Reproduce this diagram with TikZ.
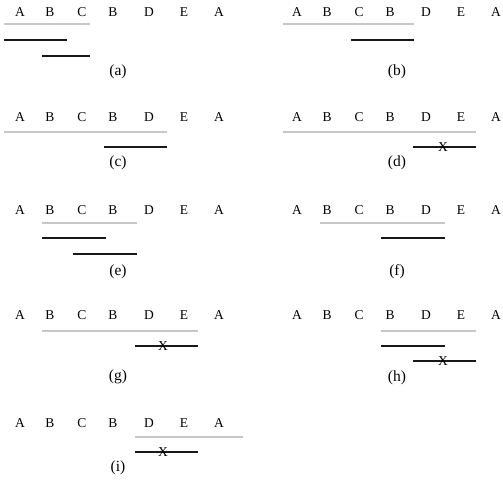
\documentclass[tikz,border=0pt]{standalone}
\usepackage{fontspec}
\setmainfont{Liberation Serif}
\begin{document}
\begin{tikzpicture}[x=1pt,y=-1pt,
  let/.style={font=\fontsize{13.5}{13.5}\selectfont, inner sep=0pt},
  lab/.style={font=\fontsize{15.5}{15.5}\selectfont, inner sep=0pt},
  gr/.style={draw=black!22, line width=2.6pt},
  bl/.style={draw=black!90, line width=2.6pt},
  xm/.style={font=\fontsize{13.5}{13.5}\selectfont, inner sep=0pt}]
\useasboundingbox (0,0) rectangle (503,480);
\newcommand\seqrow[3]{%
  \foreach \l/\x [count=\i] in {A/20,B/50,C/82,B/113,D/149,E/184,A/219}
    {\node[let] (#1\i) at (\x+#2,#3) {\l};}}
\seqrow{a}{0}{12}
\seqrow{b}{277}{12}
\seqrow{c}{0}{117}
\seqrow{d}{277}{117}
\seqrow{e}{0}{210}
\seqrow{f}{277}{210}
\seqrow{g}{0}{315}
\seqrow{h}{277}{315}
\seqrow{i}{0}{423}
% (a)
\draw[gr] (4,24) -- (90,24);
\draw[bl] (4,40) -- (67,40);
\draw[bl] (42,56) -- (90,56);
\node[lab] (la) at (118,72) {(a)};
% (b)
\draw[gr] (283,24) -- (414,24);
\draw[bl] (351,40) -- (414,40);
\node[lab] (lb) at (397,72) {(b)};
% (c)
\draw[gr] (4,132) -- (167,132);
\draw[bl] (104,147) -- (167,147);
\node[lab] (lc) at (118,163) {(c)};
% (d)
\draw[gr] (283,132) -- (476,132);
\draw[bl] (413,147) -- (476,147);
\node[xm] (xd) at (443,147) {X};
\node[lab] (ld) at (397,163) {(d)};
% (e)
\draw[gr] (42,223) -- (137,223);
\draw[bl] (42,238) -- (106,238);
\draw[bl] (73,254) -- (137,254);
\node[lab] (le) at (118,272) {(e)};
% (f)
\draw[gr] (320,223) -- (445,223);
\draw[bl] (381,238) -- (445,238);
\node[lab] (lf) at (397,272) {(f)};
% (g)
\draw[gr] (42,331) -- (198,331);
\draw[bl] (135,346) -- (198,346);
\node[xm] (xg) at (163,346) {X};
\node[lab] (lg) at (118,377) {(g)};
% (h)
\draw[gr] (381,331) -- (476,331);
\draw[bl] (381,346) -- (445,346);
\draw[bl] (413,361) -- (476,361);
\node[xm] (xh) at (443,361) {X};
\node[lab] (lh) at (397,378) {(h)};
% (i)
\draw[gr] (135,437) -- (243,437);
\draw[bl] (135,452) -- (198,452);
\node[xm] (xi) at (163,452) {X};
\node[lab] (li) at (118,468) {(i)};
\end{tikzpicture}
\end{document}
